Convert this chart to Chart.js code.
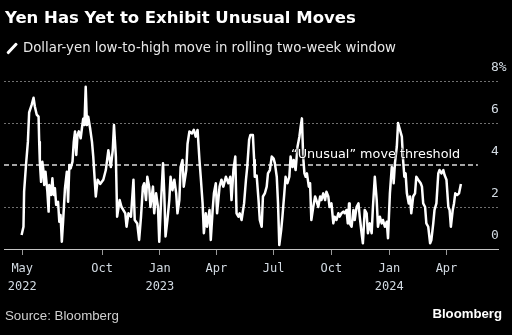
<!DOCTYPE html>
<html>
<head>
<meta charset="utf-8">
<script src="https://cdn.jsdelivr.net/npm/chart.js@4.4.1/dist/chart.umd.min.js"></script>
<style>
  body { margin: 0; background: #000; }
  #wrap { position: relative; width: 512px; height: 335px; background: #000; overflow: hidden;
          font-family: "Liberation Sans", Arial, sans-serif; }
  #wrap canvas { position: absolute; left: 0; top: 0; }
  .txt { position: absolute; white-space: nowrap; line-height: 1; }
  #title { left: 5px; top: 9.5px; font-family: "DejaVu Sans", sans-serif; font-size: 16.5px; font-weight: bold; color: #fff; }
  #subtitle { left: 23px; top: 41px; font-family: "DejaVu Sans", sans-serif; font-size: 13.3px; color: #e8e8e8; }
  #slash { position: absolute; left: 4.5px; top: 47px; width: 14px; height: 2.6px; background: #fff;
           transform: rotate(-47deg); border-radius: 1px; }
  #note { left: 291px; top: 148px; font-family: "DejaVu Sans", sans-serif; font-size: 12.8px; color: #fff;
          text-shadow: 0 0 2px #000, 0 0 2px #000, 0 0 3px #000; }
  #source { left: 5px; top: 309px; font-size: 13.3px; color: #d0d0d0; }
  #brand { right: 10px; top: 307px; font-size: 13.2px; font-weight: bold; color: #fff; }
</style>
</head>
<body>
<div id="wrap">
  <canvas id="chart" width="512" height="335"></canvas>
  <div class="txt" id="title">Yen Has Yet to Exhibit Unusual Moves</div>
  <div id="slash"></div>
  <div class="txt" id="subtitle">Dollar-yen low-to-high move in rolling two-week window</div>
  <div class="txt" id="note">“Unusual” move threshold</div>
  <div class="txt" id="source">Source: Bloomberg</div>
  <div class="txt" id="brand">Bloomberg</div>
</div>
<script>
// x values are days counted from 2022-01-01
const tickDays = [146, 273, 365, 455, 546, 638, 730, 821]
const tickLabels = [['May', '2022'], 'Oct', ['Jan', '2023'], 'Apr', 'Jul', 'Oct', ['Jan', '2024'], 'Apr']
const yTicks = [0, 2, 4, 6, 8]

const days = [145,148,149,152,155,157,161,164,166,169,172,173,174,176,178,180,181,183,186,188,
  189,192,194,196,198,200,203,205,207,209,211,214,217,219,221,223,226,228,230,232,
  234,236,239,241,243,245,247,249,251,254,257,259,263,266,270,275,279,283,287,290,
  292,295,297,301,304,310,312,315,319,323,325,329,332,335,338,340,343,345,348,350,
  354,356,359,362,364,367,370,372,374,377,380,382,385,388,391,393,396,398,401,403,
  407,409,412,416,419,422,425,428,430,433,435,438,440,444,446,449,451,454,456,460,
  463,466,470,474,477,479,482,485,487,490,492,495,499,502,504,507,509,513,515,516,
  519,522,524,527,529,532,535,537,540,543,546,548,551,553,555,558,560,563,565,568,
  571,573,576,578,581,584,587,589,591,593,595,597,599,602,604,606,609,612,614,617,
  620,622,625,628,630,633,635,638,641,643,646,649,651,654,657,659,662,664,666,667,
  670,673,675,678,681,683,686,688,691,694,696,699,702,704,707,710,712,715,718,720,
  723,726,728,731,734,736,737,739,742,744,747,750,752,754,756,758,761,763,765,768,
  771,773,776,780,782,784,787,789,792,795,797,800,802,805,808,810,813,816,818,821,
  824,826,828,831,833,835,838,841,844]

// dollar-yen move, %
const moves = [0.67,1.06,2.73,4.0,5.1,6.5,6.86,7.2,6.8,6.4,6.3,5.1,4.16,3.2,4.16,3.68,3.05,3.68,2.73,1.78,
  3.05,2.57,3.37,2.57,2.89,2.1,2.25,1.3,1.62,0.35,1.3,2.89,3.68,2.25,4.0,3.84,4.16,5.1,5.6,4.48,
  5.43,5.6,5.27,5.75,6.2,5.9,7.73,5.9,6.3,5.75,5.1,4.4,2.5,3.3,3.1,3.3,3.76,4.7,3.9,4.7,
  5.9,4.4,1.54,2.33,2.0,1.7,1.06,1.7,1.54,3.3,1.38,1.22,0.43,1.54,2.97,3.13,2.33,3.44,2.97,2.0,
  2.97,1.7,2.65,2.0,0.35,2.33,4.08,2.65,0.6,1.38,2.33,3.44,2.8,3.3,2.65,1.7,2.33,3.9,4.24,2.97,
  3.76,5.0,5.6,5.5,5.67,5.35,5.67,4.24,3.44,2.17,0.75,1.7,1.06,1.86,0.43,1.86,2.65,3.13,1.7,2.97,
  3.3,2.97,3.44,3.13,3.44,2.33,3.76,4.4,1.7,1.54,1.7,1.38,2.17,3.3,3.9,5.2,5.43,5.43,4.24,3.44,
  3.5,2.33,1.38,1.06,2.5,2.65,2.97,3.6,3.76,4.4,4.3,4.08,3.44,2.17,0.19,0.9,1.54,2.65,3.44,3.13,
  3.44,4.4,3.9,4.24,3.76,4.87,5.35,5.83,6.22,4.4,3.6,3.44,3.6,2.97,3.13,1.38,2.0,2.5,2.33,2.0,
  2.5,2.33,2.65,2.33,2.73,2.5,2.0,2.17,1.22,1.54,1.38,1.7,1.54,1.7,1.78,1.7,1.86,1.22,2.17,1.22,
  1.06,1.86,1.38,2.0,2.17,1.54,0.75,0.27,1.86,1.7,0.75,1.22,0.75,2.0,3.44,2.33,1.06,1.54,1.22,1.38,
  1.06,1.3,0.51,2.65,3.9,3.76,3.13,4.08,4.87,6.0,5.67,5.35,4.24,3.44,3.6,2.65,2.17,2.5,1.7,2.5,
  2.65,3.44,3.3,3.13,2.97,2.17,2.0,1.22,1.06,0.27,0.43,1.22,1.86,2.17,3.6,3.76,3.6,3.76,3.52,3.3,
  2.0,1.86,1.06,1.86,2.17,2.65,2.57,2.65,3.1]

const threshold = 4
const thresholdDays = [117, 871]

const labelColor = '#d3dbe3'

const ctx = document.getElementById('chart').getContext('2d')
const chart = new Chart(ctx, {
  type: 'line',
  data: {
    datasets: [
      {
        label: 'Dollar-yen move',
        data: days.map((d, i) => ({ x: d, y: moves[i] })),
        borderColor: '#ffffff',
        borderWidth: 2.5,
        pointRadius: 0,
        tension: 0,
        borderJoinStyle: 'round',
      },
      {
        label: 'Threshold',
        data: thresholdDays.map(d => ({ x: d, y: threshold })),
        borderColor: '#dcdcdc',
        borderWidth: 1.6,
        borderDash: [5, 3],
        pointRadius: 0,
      },
    ],
  },
  options: {
    responsive: false,
    animation: false,
    devicePixelRatio: 1,
    layout: { padding: { top: 81, left: 4, right: 0, bottom: 0 } },
    plugins: { legend: { display: false }, tooltip: { enabled: false } },
    scales: {
      x: {
        type: 'linear',
        min: 117,
        max: 903,
        afterBuildTicks: s => { s.ticks = tickDays.map(v => ({ value: v })) },
        afterFit: s => { s.height = 86 },
        ticks: {
          autoSkip: false,
          maxRotation: 0,
          padding: 5,
          color: labelColor,
          font: { family: 'DejaVu Sans Mono', size: 12, lineHeight: 1.5 },
          callback: v => tickLabels[tickDays.indexOf(v)],
        },
        grid: { drawOnChartArea: false, drawTicks: true, tickLength: 6, color: '#9a9a9a' },
        border: { display: true, color: '#c4c4c4', width: 1 },
      },
      y: {
        position: 'right',
        min: 0,
        max: 8,
        afterBuildTicks: s => { s.ticks = yTicks.map(v => ({ value: v })) },
        afterFit: s => { s.width = 14 },
        ticks: {
          mirror: true,
          padding: 8.6,
          labelOffset: -13,
          crossAlign: 'far',
          color: labelColor,
          font: { family: 'DejaVu Sans Mono', size: 13 },
          callback: v => (v === 8 ? '8%' : String(v)),
        },
        grid: {
          drawTicks: false,
          color: c => (c.tick && (c.tick.value === 0 || c.tick.value === threshold) ? 'rgba(0,0,0,0)' : '#707070'),
        },
        border: { display: false, dash: [2, 2] },
      },
    },
  },
})
</script>
</body>
</html>
